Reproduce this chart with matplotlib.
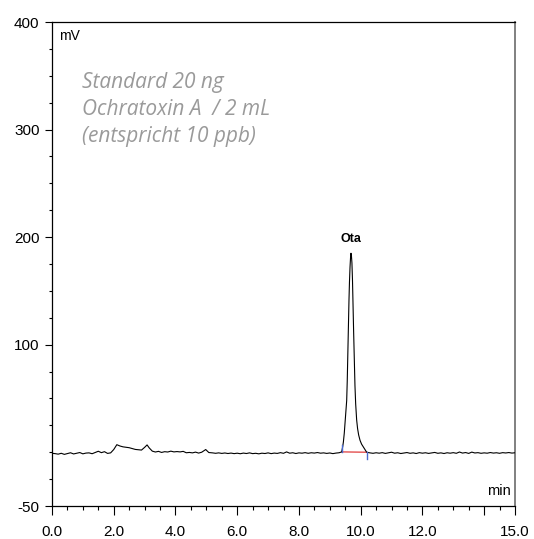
import matplotlib
matplotlib.use('Agg')
import matplotlib.pyplot as plt
from matplotlib.ticker import FixedLocator, MultipleLocator

plt.rcParams['font.family'] = ['Liberation Sans', 'DejaVu Sans']

# chromatogram trace (time in min, signal in mV)
trace_t = [0.0, 0.1, 0.2, 0.3, 0.4, 0.5, 0.6, 0.7, 0.8, 0.9,
           1.0, 1.1, 1.2, 1.3, 1.4, 1.5, 1.6, 1.7, 1.8, 1.9,
           2.0, 2.1, 2.2, 2.3, 2.4, 2.5, 2.6, 2.7, 2.8, 2.9,
           3.0, 3.08, 3.15, 3.25, 3.35, 3.45, 3.55, 3.65, 3.75, 3.85,
           3.95, 4.05, 4.15, 4.25, 4.35, 4.45, 4.55, 4.65, 4.75, 4.85,
           4.98, 5.08, 5.2, 5.3, 5.4, 5.5, 5.6, 5.7, 5.8, 5.9,
           6.0, 6.1, 6.2, 6.3, 6.4, 6.5, 6.6, 6.7, 6.8, 6.9,
           7.0, 7.1, 7.2, 7.3, 7.4, 7.5, 7.6, 7.7, 7.8, 7.9,
           8.0, 8.1, 8.2, 8.3, 8.4, 8.5, 8.6, 8.7, 8.8, 8.9,
           9.0, 9.1, 9.2, 9.3, 9.385, 9.417, 9.44, 9.469, 9.49, 9.52,
           9.547, 9.565, 9.579, 9.60, 9.621, 9.637, 9.655, 9.672, 9.686, 9.70,
           9.717, 9.735, 9.751, 9.772, 9.793, 9.815, 9.838, 9.87, 9.90, 9.935,
           9.98, 10.03, 10.084, 10.14, 10.194, 10.3,
           10.4, 10.5, 10.6, 10.7, 10.8, 10.9, 11.0, 11.1, 11.2, 11.3,
           11.4, 11.5, 11.6, 11.7, 11.8, 11.9, 12.0, 12.1, 12.2, 12.3,
           12.4, 12.5, 12.6, 12.7, 12.8, 12.9, 13.0, 13.1, 13.2, 13.3,
           13.4, 13.5, 13.6, 13.7, 13.8, 13.9, 14.0, 14.1, 14.2, 14.3,
           14.4, 14.5, 14.6, 14.7, 14.8, 14.9, 15.0]
trace_mv = [-1.0, -1.3, -1.8, -1.0, -2.0, -1.2, -0.5, -1.6, -1.0, -0.3,
            -1.5, -0.8, -0.6, -1.4, -0.2, 0.9, -0.4, 0.5, -1.1, -0.6,
            2.5, 7.0, 5.8, 5.0, 4.6, 4.2, 3.4, 2.6, 2.3, 2.0,
            4.5, 6.8, 4.0, 1.0, 0.2, 0.8, -0.2, 0.5, 0.2, 1.0,
            0.3, 0.6, 0.3, 0.8, -0.5, -0.2, -0.6, 0.1, -0.8, 0.0,
            2.5, -0.3, -0.6, -1.0, -0.6, -1.1, -0.7, -1.2, -0.8, -1.3,
            -0.9, -1.4, -0.8, -1.2, -0.6, -1.3, -1.0, -1.5, -0.9, -1.2,
            -0.6, -1.3, -0.8, -1.1, -0.4, -1.0, 0.3, -0.9, -0.5, -1.2,
            -0.6, -0.9, -0.4, -1.0, -0.5, -0.8, -0.3, -0.9, -0.6, -1.1,
            -0.7, -1.3, -0.8, -0.5, 0.3, 5.0, 9.5, 17.7, 26.0, 38.0,
            48.0, 66.0, 85.5, 112.0, 141.0, 158.0, 172.0, 181.0, 185.0, 183.0,
            176.0, 160.0, 141.0, 112.0, 85.5, 62.0, 45.0, 30.0, 22.0, 16.0,
            11.0, 7.5, 5.0, 2.5, 0.0, -0.6,
            -1.0, -0.5, -0.9, -0.4, -1.1, -0.6, 0.0, -0.9, -0.5, -1.2,
            -0.7, -0.3, -1.0, -0.6, -1.2, -0.4, -0.9, -0.5, -1.1, -0.7,
            -0.2, -1.0, -0.6, -1.2, -0.5, -0.9, -0.4, -1.0, 0.2, -0.8,
            -0.3, -1.1, 0.1, -0.7, -0.4, -1.0, -0.6, -0.9, -0.3, -0.8,
            -0.5, -1.0, -0.4, -0.7, -0.3, -0.8, -0.5]

# integration of the Ota peak
peak_name = 'Ota'
peak_apex = (9.686, 185.0)
peak_start = (9.39, 0.3)
peak_end = (10.19, 0.0)

x_major = [0, 2, 4, 6, 8, 10, 12, 14, 15]
x_labels = ['0.0', '2.0', '4.0', '6.0', '8.0', '10.0', '12.0', '', '15.0']
y_major = [-50, 100, 200, 300, 400]
y_labels = ['-50', '100', '200', '300', '400']

note_lines = ['Standard 20 ng', 'Ochratoxin A  / 2 mL', '(entspricht 10 ppb)']

W, H = 534, 539
fig = plt.figure(figsize=(W / 100, H / 100), dpi=100)
ax = fig.add_axes([52 / W, 1 - 506 / H, 463 / W, 484 / H])

ax.plot(trace_t, trace_mv, color='black', lw=0.8, zorder=3)
ax.plot([peak_start[0], peak_end[0]], [peak_start[1], peak_end[1]],
        color='#e03c3c', lw=0.9, zorder=2)
ax.plot([peak_start[0], peak_start[0]], [peak_start[1], peak_start[1] + 6],
        color='#4a6ad0', lw=1.0, zorder=4)
ax.plot([peak_end[0], peak_end[0]], [peak_end[1], peak_end[1] - 6],
        color='#4a6ad0', lw=1.0, zorder=4)
ax.text(peak_apex[0], peak_apex[1] + 8, peak_name, ha='center', va='bottom',
        fontsize=9, fontweight='bold')

ax.set_xlim(0, 15)
ax.set_ylim(-50, 400)

ax.xaxis.set_major_locator(FixedLocator(x_major))
ax.set_xticklabels(x_labels)
ax.xaxis.set_minor_locator(MultipleLocator(0.5))
ax.yaxis.set_major_locator(FixedLocator(y_major))
ax.set_yticklabels(y_labels)
ax.yaxis.set_minor_locator(MultipleLocator(25))

ax.tick_params(axis='x', which='major', length=6.5, width=0.8, pad=7,
               labelsize=11, colors='black')
ax.tick_params(axis='x', which='minor', length=2.8, width=0.8)
ax.tick_params(axis='y', which='major', length=5, width=0.8, pad=4,
               labelsize=11)
ax.tick_params(axis='y', which='minor', length=2.2, width=0.8)

for side in ['left', 'bottom', 'top']:
    ax.spines[side].set_linewidth(0.9)
    ax.spines[side].set_color('black')
ax.spines['right'].set_color('#808080')
ax.spines['right'].set_linewidth(1.4)

ax.text(7 / 463, 1 - 14 / 484, 'mV', transform=ax.transAxes,
        ha='left', va='center', fontsize=10)
ax.text(1 - 4 / 463, 15 / 484, 'min', transform=ax.transAxes,
        ha='right', va='center', fontsize=10.5)

baselines = [88, 115, 142]
for line, yb in zip(note_lines, baselines):
    fig.text(82 / W, 1 - yb / H, line, ha='left', va='baseline',
             fontsize=15, style='italic', color='#9a9a9a',
             family=['Open Sans', 'DejaVu Sans'])

fig.savefig('out.png', dpi=100)
